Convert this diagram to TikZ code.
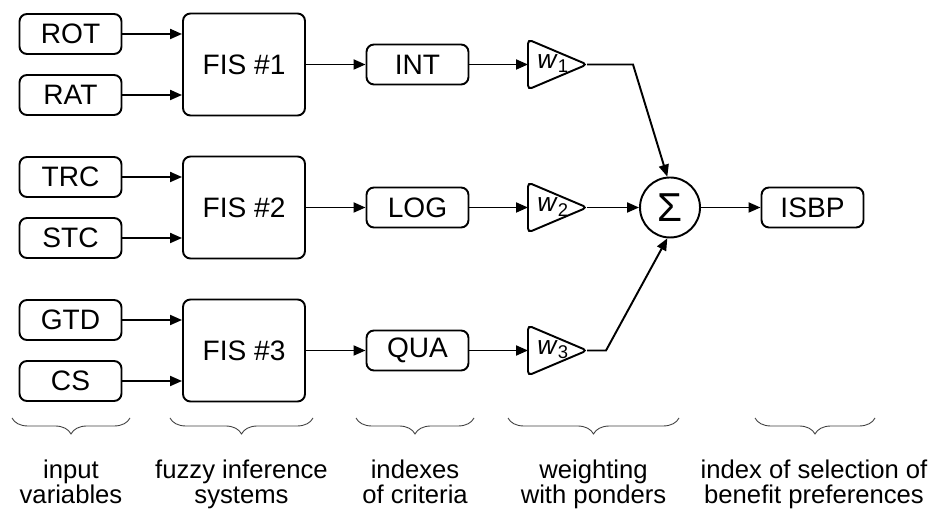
\documentclass[tikz,border=0pt]{standalone}
\usepackage{fontspec}
\setmainfont{Liberation Sans}
\usetikzlibrary{arrows.meta,calc,decorations.pathreplacing,positioning}

\tikzset{
  var/.style={draw, rounded corners=0.15cm, minimum width=2.04cm, minimum height=0.8cm, inner sep=0pt, line width=1.1pt, font=\fontsize{16}{18}\selectfont},
  fis/.style={var, minimum width=2.44cm, minimum height=2.04cm},
  tri/.style={line width=1.1pt, rounded corners=0.08cm},
  wtxt/.style={anchor=west, inner sep=0pt, font=\fontsize{15}{16}\selectfont},
  sumcirc/.style={draw, circle, minimum size=1.2cm, inner sep=0pt, line width=1.1pt, font=\fontsize{23}{25}\selectfont},
  arr/.style={line width=1.1pt, -{Triangle[length=0.24cm,width=0.2cm]}},
  brc/.style={decorate, decoration={brace,mirror,amplitude=0.32cm}, line width=0.5pt, black!75},
  lbl/.style={align=center, anchor=north, inner sep=0pt, font=\fontsize{14.6}{14.2}\selectfont}
}

\begin{document}
\begin{tikzpicture}
		\useasboundingbox (0,0) rectangle (18.6,10.2);
		
		% inputs
		\node[var] (rot) at (1.41,9.52) {ROT};
		\node[var] (rat) at (1.41,8.30) {RAT};
		\node[var] (trc) at (1.41,6.66) {TRC};
		\node[var] (stc) at (1.41,5.44) {STC};
		\node[var] (gtd) at (1.41,3.80) {GTD};
		\node[var] (cs) at (1.41,2.58) {CS};
		
		\node[fis] (fis1) at (4.88,8.91) {FIS \#1};
		\node[fis] (fis2) at (4.88,6.05) {FIS \#2};
		\node[fis] (fis3) at (4.88,3.19) {FIS \#3};
		
		\node[var] (int) at (8.35,8.91) {INT};
		\node[var] (log) at (8.35,6.05) {LOG};
		\node[var] (qua) at (8.35,3.19) {QUA};
		
		% ponders
		\foreach \i/\y in {1/8.91, 2/6.05, 3/3.19} {
			\coordinate (w\i in) at (10.56,\y);
			\coordinate (w\i out) at (11.74,\y);
			\draw[tri] ($(w\i in)+(0,0.5)$) -- (w\i out) -- ($(w\i in)-(0,0.5)$) -- cycle;
			\node[wtxt] (w\i) at ($(w\i in)+(0.18,0.01)$) {\textit{w}\textsubscript{\i}};
		}
		
		\node[sumcirc] (sigma) at (13.4,6.05) {Σ};
		\node[var] (isbp) at (16.25,6.05) {ISBP};
		
		\coordinate (k1) at (12.66,8.91);
		\coordinate (k3) at (12.12,3.19);
		
		\draw[arr] (rot) -- (rot -| fis1.west);
		\draw[arr] (rat) -- (rat -| fis1.west);
		\draw[arr] (trc) -- (trc -| fis2.west);
		\draw[arr] (stc) -- (stc -| fis2.west);
		\draw[arr] (gtd) -- (gtd -| fis3.west);
		\draw[arr] (cs) -- (cs -| fis3.west);
		
		\draw[arr] (fis1) -- (int);
		\draw[arr] (fis2) -- (log);
		\draw[arr] (fis3) -- (qua);
		\draw[arr] (int) -- (w1in);
		\draw[arr] (log) -- (w2in);
		\draw[arr] (qua) -- (w3in);
		
		\draw[arr] (w1out) -- (k1) -- (sigma.95);
		\draw[arr] (w2out) -- (sigma);
		\draw[arr] (w3out) -- (k3) -- (sigma.265);
		\draw[arr] (sigma) -- (isbp);
		
		% braces and captions
		\draw[brc] (0.24,1.84) -- (2.6,1.84);
		\draw[brc] (3.4,1.84) -- (6.26,1.84);
		\draw[brc] (7.12,1.84) -- (9.48,1.84);
		\draw[brc] (10.16,1.84) -- (13.58,1.84);
		\draw[brc] (15.1,1.84) -- (17.5,1.84);
		
		\node[lbl] (l1) at (1.42,1.01) {input\\variables};
		\node[lbl] (l2) at (4.83,1.01) {fuzzy inference\\systems};
		\node[lbl] (l3) at (8.30,1.01) {indexes\\of criteria};
		\node[lbl] (l4) at (11.87,1.01) {weighting\\with ponders};
		\node[lbl] (l5) at (16.28,1.01) {index of selection of\\benefit preferences};
\end{tikzpicture}
\end{document}
